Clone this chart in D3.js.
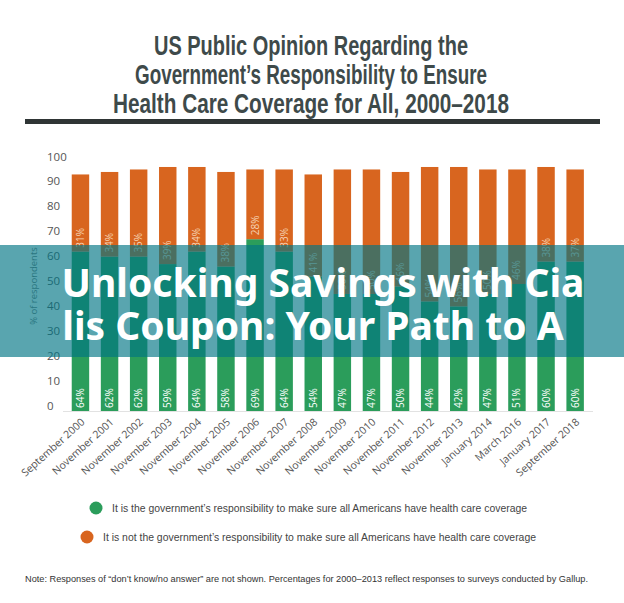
<!DOCTYPE html>
<html>
<head>
<meta charset="utf-8">
<script src="https://cdn.jsdelivr.net/npm/d3@7"></script>
<style>
  html, body { margin: 0; padding: 0; background: #fff; }
  svg { display: block; }
</style>
</head>
<body>
<svg id="chart" width="624" height="603"></svg>
<script>
const categories = ["September 2000","November 2001","November 2002","November 2003","November 2004","November 2005","November 2006","November 2007","November 2008","November 2009","November 2010","November 2011","November 2012","November 2013","January 2014","March 2016","January 2017","September 2018"];
const yesValues = [64,62,62,59,64,58,69,64,54,47,47,50,44,42,47,51,60,60];
const noValues  = [31,34,35,39,34,38,28,33,41,50,50,46,54,56,50,46,38,37];
const yTicks = [0,10,20,30,40,50,60,70,80,90,100];
const titleLines = ["US Public Opinion Regarding the","Government\u2019s Responsibility to Ensure","Health Care Coverage for All, 2000\u20132018"];
const legendLabels = ["It is the government\u2019s responsibility to make sure all Americans have health care coverage","It is not the government\u2019s responsibility to make sure all Americans have health care coverage"];
const noteText = "Note: Responses of \u201cdon\u2019t know/no answer\u201d are not shown. Percentages for 2000\u20132013 reflect responses to surveys conducted by Gallup.";
const bannerLines = ["Unlocking Savings with Cia","lis Coupon: Your Path to A"];

const GREEN = "#2b9d5b", ORANGE = "#d8651f";
const svg = d3.select("#chart");

// fit a text element horizontally to a target width (condensed look)
function fitWidth(sel, w) {
  sel.attr("textLength", w).attr("lengthAdjust", "spacingAndGlyphs");
}

// Title
const titleWidths = [314, 352, 396];
svg.append("g").selectAll("text").data(titleLines).join("text")
  .attr("x", 311).attr("y", (d,i) => 55 + i*29)
  .attr("text-anchor","middle")
  .style("font-family","'Liberation Sans',Arial,sans-serif")
  .style("font-weight","bold").style("font-size","27px").style("fill","#3e4a4a")
  .text(d => d)
  .each(function(d,i){ fitWidth(d3.select(this), titleWidths[i]); });
svg.append("rect").attr("x",25).attr("y",119).attr("width",575).attr("height",5).attr("fill","#2f3535");

// Scales
const x = d3.scaleBand().domain(categories).range([63, 592.6]).paddingInner(0.4).paddingOuter(0.3);
const y = d3.scaleLinear().domain([0,100]).range([411,162]);

// Y axis labels
const yAxis = svg.append("g").attr("transform","translate(47,0)")
  .call(d3.axisRight(y).tickValues(yTicks).tickSize(0).tickPadding(0).tickFormat(d3.format("d")));
yAxis.select(".domain").remove();
yAxis.selectAll("text").attr("dy","-0.17em").attr("x",0)
  .style("font-family","'Open Sans',sans-serif").style("font-size","11.5px").style("fill","#555");

// Y title
svg.append("text").attr("transform","translate(37,286) rotate(-90)")
  .attr("text-anchor","middle")
  .style("font-family","'Open Sans',sans-serif").style("font-size","9.5px").style("fill","#777")
  .text("% of respondents");

// Baseline
svg.append("line").attr("x1",63).attr("x2",593).attr("y1",y(0)+0.5).attr("y2",y(0)+0.5)
  .attr("stroke","#e2e2e2").attr("stroke-width",1);

// Bars
const bars = svg.append("g");
bars.selectAll("rect.yes").data(categories).join("rect").attr("class","yes")
  .attr("x", d => x(d)).attr("width", x.bandwidth())
  .attr("y", (d,i) => y(yesValues[i])).attr("height", (d,i) => y(0) - y(yesValues[i]))
  .attr("fill", GREEN);
bars.selectAll("rect.no").data(categories).join("rect").attr("class","no")
  .attr("x", d => x(d)).attr("width", x.bandwidth())
  .attr("y", (d,i) => y(yesValues[i] + noValues[i])).attr("height", (d,i) => y(yesValues[i]) - y(yesValues[i] + noValues[i]))
  .attr("fill", ORANGE);

// Bar labels
bars.selectAll("text.yl").data(categories).join("text").attr("class","yl")
  .attr("transform", d => `translate(${x(d) + x.bandwidth()/2 + 3.5},${y(0) - 3}) rotate(-90)`)
  .style("font-family","'Open Sans',sans-serif").style("font-size","10px").style("fill","#fff")
  .text((d,i) => yesValues[i] + "%");
bars.selectAll("text.nl").data(categories).join("text").attr("class","nl")
  .attr("transform", (d,i) => `translate(${x(d) + x.bandwidth()/2 + 3.5},${y(yesValues[i]) - 4}) rotate(-90)`)
  .style("font-family","'Open Sans',sans-serif").style("font-size","10px").style("fill","#f6d2b4")
  .text((d,i) => noValues[i] + "%");

// X labels
svg.append("g").selectAll("text").data(categories).join("text")
  .attr("transform", d => `translate(${x(d) + x.bandwidth()/2 + 5},${y(0) + 12}) rotate(-42)`)
  .attr("text-anchor","end")
  .style("font-family","'Open Sans',sans-serif").style("font-size","10.5px").style("fill","#555")
  .text(d => d);

// Legend
const legColors = [GREEN, ORANGE];
const legX = [96, 87];
const legW = [415, 433];
const leg = svg.append("g");
leg.selectAll("circle").data(legendLabels).join("circle")
  .attr("cx", (d,i) => legX[i]).attr("cy", (d,i) => 508 + i*29).attr("r", 6.5)
  .attr("fill", (d,i) => legColors[i]);
leg.selectAll("text").data(legendLabels).join("text")
  .attr("x", (d,i) => legX[i] + 16).attr("y", (d,i) => 512 + i*29)
  .style("font-family","'Liberation Sans',Arial,sans-serif").style("font-size","11px").style("fill","#444")
  .text(d => d)
  .each(function(d,i){ fitWidth(d3.select(this), legW[i]); });

// Note
svg.append("text").attr("x",25).attr("y",582)
  .style("font-family","'Liberation Sans',Arial,sans-serif").style("font-size","9.5px").style("fill","#333")
  .text(noteText)
  .call(s => fitWidth(s, 563));

// Banner overlay
svg.append("rect").attr("x",0).attr("y",245).attr("width",624).attr("height",112)
  .attr("fill","rgb(0,117,132)").attr("fill-opacity",0.65);
svg.append("g").selectAll("text").data(bannerLines).join("text")
  .attr("x", (d,i) => [323,313][i]).attr("y", (d,i) => 297 + i*43)
  .attr("text-anchor","middle")
  .style("font-family","'Noto Sans',sans-serif").style("font-weight","bold").style("font-size","39px").style("fill","#fff")
  .text(d => d);
</script>
</body>
</html>
